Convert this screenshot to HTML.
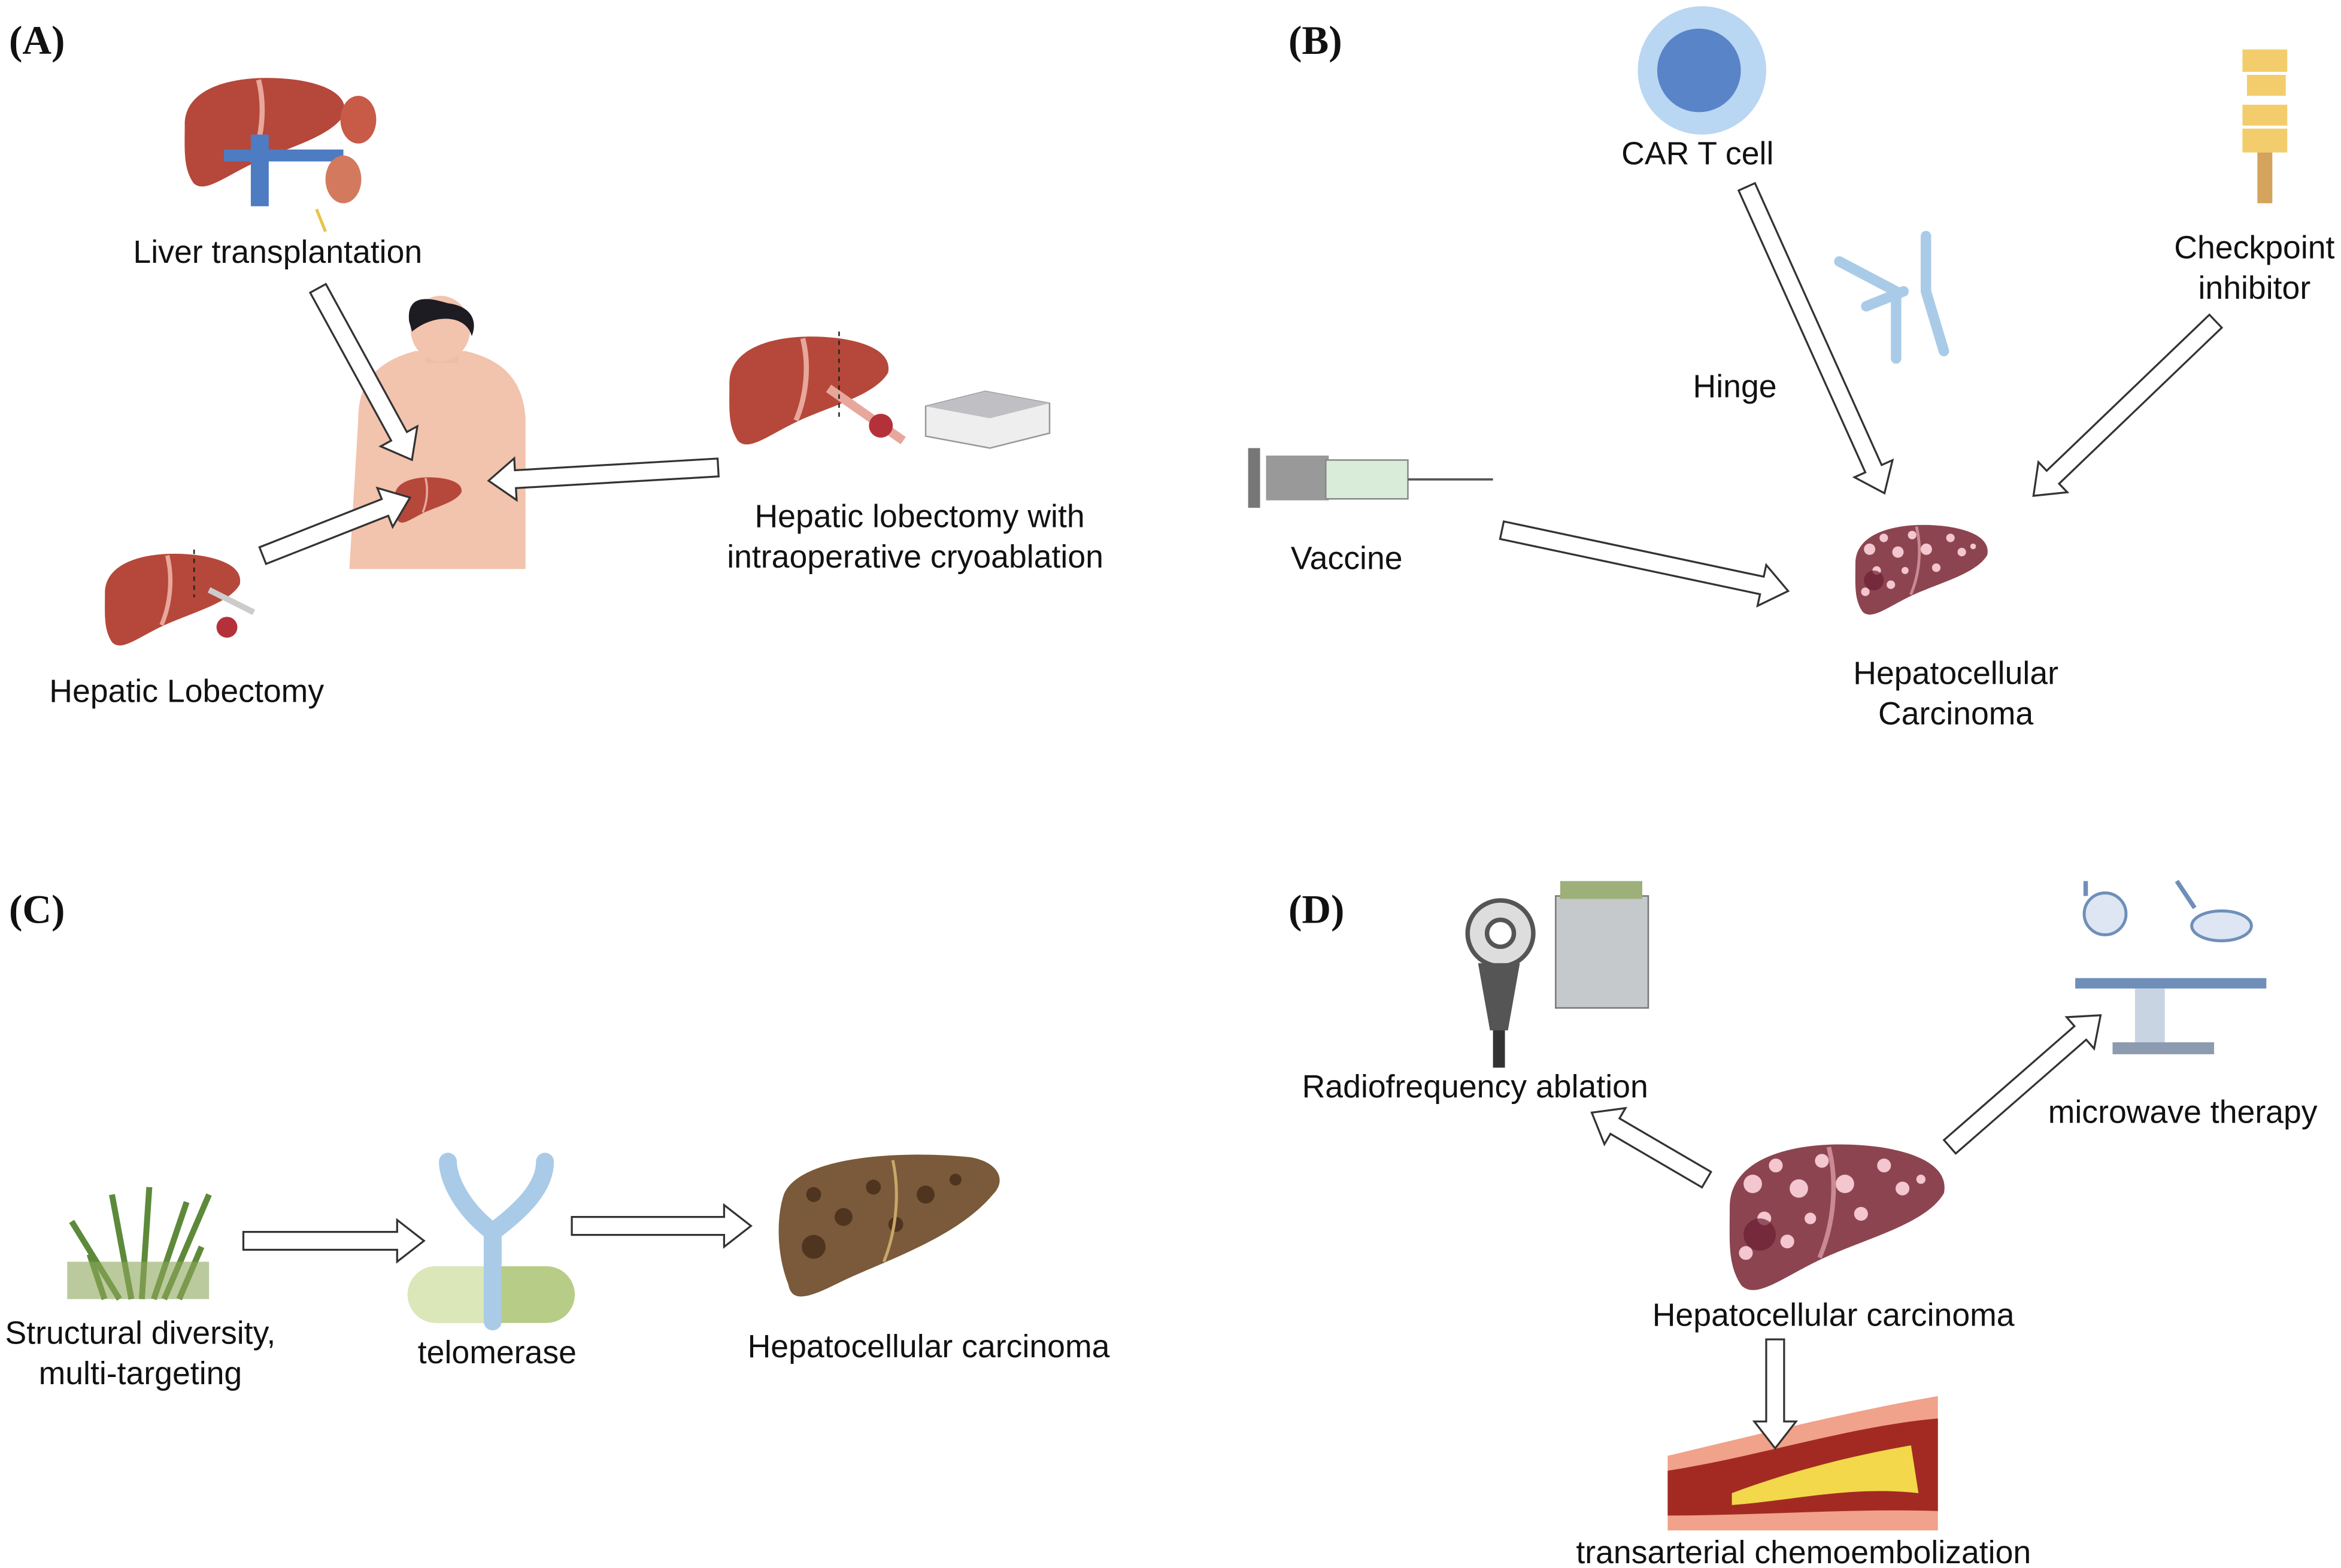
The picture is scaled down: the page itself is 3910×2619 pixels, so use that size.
<!DOCTYPE html>
<html><head><meta charset="utf-8"><style>
html,body{margin:0;padding:0;background:#fff;}
svg{display:block;}
text{font-family:"Liberation Sans",sans-serif;font-size:21.5px;fill:#111;}
.pl{font-family:"Liberation Serif",serif;font-weight:bold;font-size:27px;}
.ar{fill:#fff;stroke:#333;stroke-width:1.3;}
</style></head><body>
<svg width="3910" height="2619" viewBox="0 0 1568 1050" xmlns="http://www.w3.org/2000/svg">
<defs>
<symbol id="liver" viewBox="0 0 100 70">
<path d="M5,30 C5,6 40,0 70,4 C90,7 100,14 98,24 C90,38 62,44 42,54 C26,62 16,70 10,64 C4,55 5,45 5,30Z" fill="#b5483a"/>
<path d="M48,4 C52,20 50,38 44,52" stroke="#e8a79b" stroke-width="3" fill="none"/>
</symbol>
<symbol id="hcc" viewBox="0 0 100 70">
<path d="M5,30 C5,6 40,0 70,4 C90,7 100,14 98,24 C90,38 62,44 42,54 C26,62 16,70 10,64 C4,55 5,45 5,30Z" fill="#8c4550"/>
<g fill="#f4c6cf">
<circle cx="15" cy="20" r="4"/><circle cx="25" cy="12" r="3"/><circle cx="35" cy="22" r="4"/><circle cx="20" cy="35" r="3"/><circle cx="30" cy="45" r="3"/><circle cx="45" cy="10" r="3"/><circle cx="55" cy="20" r="4"/><circle cx="62" cy="33" r="3"/><circle cx="72" cy="12" r="3"/><circle cx="80" cy="22" r="3"/><circle cx="12" cy="50" r="3"/><circle cx="40" cy="35" r="2.5"/><circle cx="88" cy="18" r="2"/>
</g>
<circle cx="18" cy="42" r="7" fill="#6a2030" opacity=".7"/>
<path d="M48,4 C52,20 50,38 44,52" stroke="#c98a94" stroke-width="2" fill="none"/>
</symbol>
</defs>

<text class="pl" x="6" y="36">(A)</text>
<text class="pl" x="863" y="36">(B)</text>
<text class="pl" x="6" y="618">(C)</text>
<text class="pl" x="863" y="618">(D)</text>

<!-- A -->
<use href="#liver" x="118" y="48" width="115" height="82"/>
<rect x="168" y="90" width="12" height="48" fill="#4d7cc2"/>
<rect x="150" y="100" width="80" height="8" fill="#4d7cc2"/>
<ellipse cx="240" cy="80" rx="12" ry="16" fill="#c85a48"/>
<ellipse cx="230" cy="120" rx="12" ry="16" fill="#d37a5e"/>
<path d="M212,140 L218,155" stroke="#e8c445" stroke-width="2"/>
<text x="186" y="176" text-anchor="middle">Liver transplantation</text>

<path d="M240,280 C240,250 260,240 278,235 L312,235 C332,240 350,250 352,280 L352,381 L234,381 Z" fill="#f2c3ad"/>
<rect x="285" y="225" width="22" height="18" fill="#f0bca4"/>
<ellipse cx="295" cy="220" rx="20" ry="22" fill="#f2c3ad"/>
<path d="M274,215 C272,195 290,200 300,203 C316,205 320,215 316,225 C312,210 290,210 276,222Z" fill="#1c1c22"/>
<use href="#liver" x="262" y="318" width="48" height="34"/>

<use href="#liver" x="480" y="222" width="120" height="80"/>
<path d="M555,260 L605,295" stroke="#e8a79b" stroke-width="6"/>
<path d="M562,222 L562,280" stroke="#222" stroke-dasharray="3,3"/>
<circle cx="590" cy="285" r="8" fill="#b5313a"/>
<path d="M620,272 L660,262 L703,270 L703,290 L663,300 L620,292Z" fill="#eeeeee" stroke="#999"/>
<path d="M620,272 L660,262 L703,270 L663,280Z" fill="#bfbfc4"/>
<text x="616" y="353" text-anchor="middle">Hepatic lobectomy with</text>
<text x="613" y="380" text-anchor="middle">intraoperative cryoablation</text>

<use href="#liver" x="65" y="368" width="98" height="68"/>
<path d="M130,368 L130,400" stroke="#222" stroke-dasharray="3,3"/>
<path d="M140,395 L170,410" stroke="#ccc" stroke-width="4"/>
<circle cx="152" cy="420" r="7" fill="#b5313a"/>
<text x="125" y="470" text-anchor="middle">Hepatic Lobectomy</text>

<!-- B -->
<circle cx="1140" cy="47" r="43" fill="#b9d6f2"/>
<circle cx="1138" cy="47" r="28" fill="#5a84c8"/>
<text x="1137" y="110" text-anchor="middle">CAR T cell</text>
<g fill="#f3cd6c"><rect x="1502" y="33" width="30" height="15"/><rect x="1505" y="50" width="26" height="14"/><rect x="1502" y="70" width="30" height="14"/><rect x="1502" y="86" width="30" height="16"/></g>
<rect x="1512" y="102" width="10" height="34" fill="#d4a35c"/>
<text x="1510" y="173" text-anchor="middle">Checkpoint</text>
<text x="1510" y="200" text-anchor="middle">inhibitor</text>
<g stroke="#a9cbe8" stroke-width="7" stroke-linecap="round" fill="none">
<path d="M1270,240 L1270,195 L1232,175"/><path d="M1290,158 L1290,195 L1302,235"/><path d="M1275,195 L1250,205"/>
</g>
<text x="1162" y="266" text-anchor="middle">Hinge</text>
<rect x="848" y="305" width="42" height="30" fill="#999"/>
<rect x="888" y="308" width="55" height="26" fill="#d9ecd9" stroke="#888"/>
<rect x="836" y="300" width="8" height="40" fill="#777"/>
<path d="M943,321 L1000,321" stroke="#555" stroke-width="1.5"/>
<text x="902" y="381" text-anchor="middle">Vaccine</text>
<use href="#hcc" x="1238" y="348" width="95" height="68"/>
<text x="1310" y="458" text-anchor="middle">Hepatocellular</text>
<text x="1310" y="485" text-anchor="middle">Carcinoma</text>

<!-- C -->
<g stroke="#5d8a3a" stroke-width="4" fill="none">
<path d="M88,870 L75,800"/><path d="M95,870 L100,795"/><path d="M103,870 L125,805"/><path d="M80,870 L48,818"/><path d="M110,870 L140,800"/><path d="M70,870 L60,840"/><path d="M120,870 L135,835"/>
</g>
<rect x="45" y="845" width="95" height="25" fill="#8ea65a" opacity=".6"/>
<text x="94" y="900" text-anchor="middle">Structural diversity,</text>
<text x="94" y="927" text-anchor="middle">multi-targeting</text>
<rect x="273" y="848" width="112" height="38" rx="19" fill="#b7cc86"/>
<path d="M273,867 a19,19 0 0 1 19,-19 L330,848 L330,886 L292,886 a19,19 0 0 1 -19,-19Z" fill="#dbe7b9"/>
<path d="M330,885 L330,825 C310,810 300,790 300,778 M330,825 C350,810 365,795 365,778" stroke="#a9cbe8" stroke-width="12" fill="none" stroke-linecap="round"/>
<text x="333" y="913" text-anchor="middle">telomerase</text>
<path d="M525,800 C535,775 600,770 650,775 C668,778 675,790 665,800 C640,830 590,845 560,860 C540,870 530,872 528,860 C520,840 520,815 525,800Z" fill="#7a5a3a"/>
<g fill="#4f3520"><circle cx="545" cy="800" r="5"/><circle cx="565" cy="815" r="6"/><circle cx="585" cy="795" r="5"/><circle cx="620" cy="800" r="6"/><circle cx="640" cy="790" r="4"/><circle cx="600" cy="820" r="5"/><circle cx="545" cy="835" r="8"/></g>
<path d="M598,777 C603,800 600,825 592,845" stroke="#c9a76a" stroke-width="2" fill="none"/>
<text x="622" y="909" text-anchor="middle">Hepatocellular carcinoma</text>

<!-- D -->
<rect x="1042" y="600" width="62" height="75" fill="#c6c9cc" stroke="#777"/>
<rect x="1045" y="590" width="55" height="12" fill="#9db07a"/>
<circle cx="1005" cy="625" r="22" fill="#ddd" stroke="#555" stroke-width="3"/>
<circle cx="1005" cy="625" r="9" fill="#fff" stroke="#555" stroke-width="3"/>
<path d="M990,645 L1018,645 L1010,690 L998,690Z" fill="#555"/>
<rect x="1000" y="690" width="8" height="25" fill="#333"/>
<text x="988" y="735" text-anchor="middle">Radiofrequency ablation</text>
<circle cx="1410" cy="612" r="14" fill="#dde6f2" stroke="#6f8fb8" stroke-width="2"/>
<ellipse cx="1488" cy="620" rx="20" ry="10" fill="#dde6f2" stroke="#6f8fb8" stroke-width="2"/>
<path d="M1397,590 L1397,600 M1458,590 L1470,608" stroke="#6f8fb8" stroke-width="3"/>
<rect x="1390" y="655" width="128" height="7" fill="#6f8fb8"/>
<rect x="1430" y="662" width="20" height="38" fill="#c9d4e2"/>
<rect x="1415" y="698" width="68" height="8" fill="#8d9bb0"/>
<text x="1462" y="752" text-anchor="middle">microwave therapy</text>
<use href="#hcc" x="1148" y="762" width="160" height="108"/>
<text x="1228" y="888" text-anchor="middle">Hepatocellular carcinoma</text>
<path d="M1117,975 C1180,960 1240,945 1298,935 L1298,1025 L1117,1025Z" fill="#f0a28a"/>
<path d="M1117,985 C1180,975 1240,955 1298,950 L1298,1012 C1240,1010 1180,1015 1117,1015Z" fill="#a32a22"/>
<path d="M1160,1000 C1200,985 1240,975 1280,968 L1285,1000 C1240,995 1200,1005 1160,1008Z" fill="#f2d84a"/>
<text x="1208" y="1047" text-anchor="middle">transarterial chemoembolization</text>

<g class="ar">
<polygon transform="translate(213,193) rotate(61.3)" points="0,-6 113,-6 113,-14 131,0 113,14 113,6 0,6"/>
<polygon transform="translate(481,313) rotate(176.7)" points="0,-6 136,-6 136,-14 154,0 136,14 136,6 0,6"/>
<polygon transform="translate(176,372) rotate(-21.5)" points="0,-6 88,-6 88,-14 106,0 88,14 88,6 0,6"/>
<polygon transform="translate(1170,125) rotate(65.8)" points="0,-6 207,-6 207,-14 225,0 207,14 207,6 0,6"/>
<polygon transform="translate(1484,215) rotate(136.2)" points="0,-6 151,-6 151,-14 169,0 151,14 151,6 0,6"/>
<polygon transform="translate(1006,355) rotate(12)" points="0,-6 178,-6 178,-14 196,0 178,14 178,6 0,6"/>
<polygon transform="translate(163,831) rotate(0)" points="0,-6 103,-6 103,-14 121,0 103,14 103,6 0,6"/>
<polygon transform="translate(383,821) rotate(0)" points="0,-6 102,-6 102,-14 120,0 102,14 102,6 0,6"/>
<polygon transform="translate(1143,790) rotate(-149.7)" points="0,-6 71,-6 71,-14 89,0 71,14 71,6 0,6"/>
<polygon transform="translate(1306,768) rotate(-41.1)" points="0,-6 116,-6 116,-14 134,0 116,14 116,6 0,6"/>
<polygon transform="translate(1189,897) rotate(90)" points="0,-6 55,-6 55,-14 73,0 55,14 55,6 0,6"/>
</g>
</svg>
</body></html>
